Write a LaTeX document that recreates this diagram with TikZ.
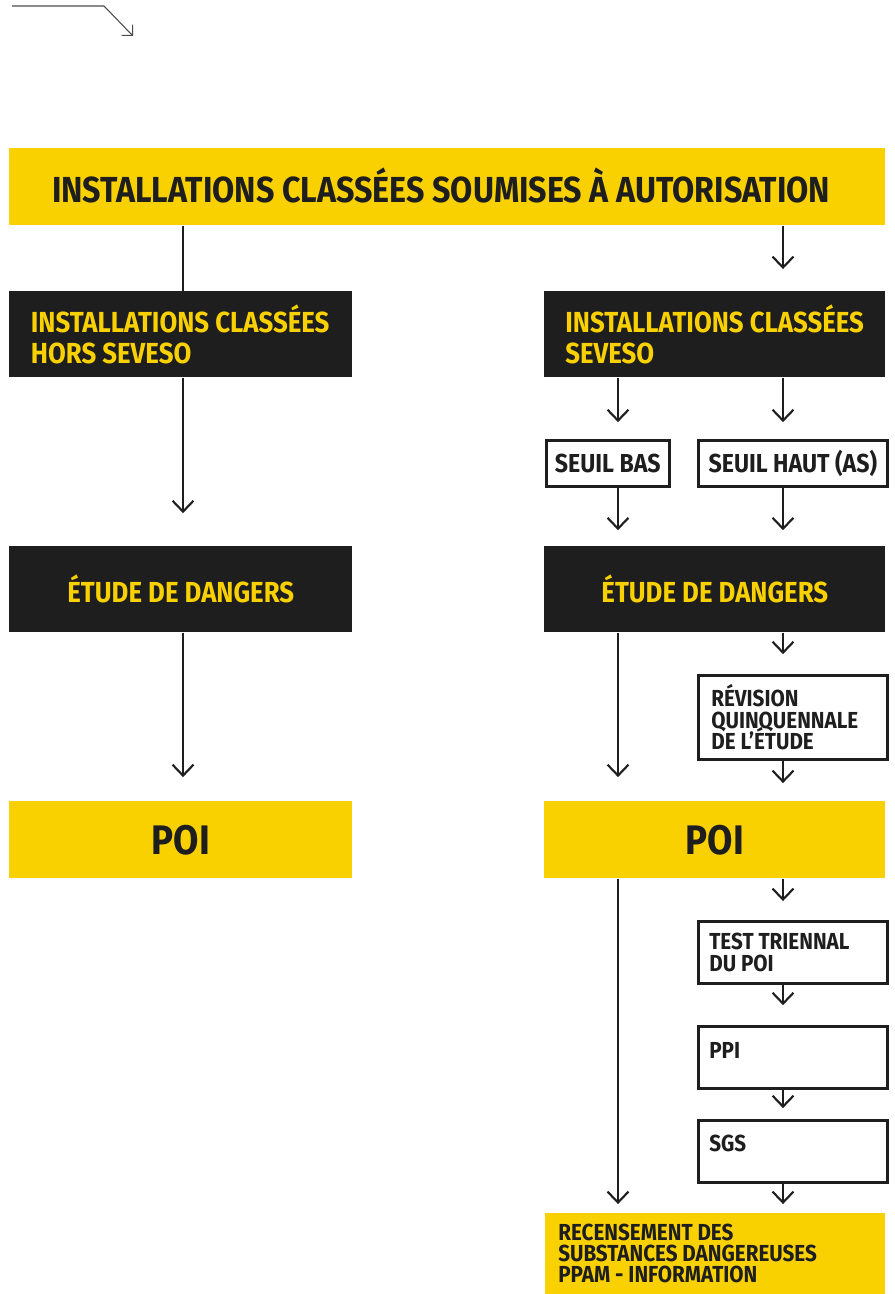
\documentclass[tikz,border=0pt]{standalone}
\usepackage{fontspec}
\setmainfont{Fira Sans}[FakeStretch=0.89]
\usetikzlibrary{arrows.meta}

\definecolor{jaune}{RGB}{250,209,0}
\definecolor{noir}{RGB}{30,30,30}

\begin{document}
\begin{tikzpicture}[x=0.02cm,y=-0.02cm,
    box/.style={anchor=north west,inner sep=0pt,font=\bfseries,execute at begin node={\lineskiplimit=-100pt}},
    jbox/.style={box,fill=jaune,text=noir},
    nbox/.style={box,fill=noir,text=jaune},
    wbox/.style={box,draw=noir,line width=1.5pt,fill=white,text=noir},
    lt/.style={align=flush left,inner xsep=#1},
    arr/.style={draw=noir,line width=1.2pt,-{Straight Barb[length=6.2pt,width=11.9pt]}},
    ln/.style={draw=noir,line width=1.2pt}]

    \useasboundingbox (0,0) rectangle (894,1294);

    \coordinate (d0) at (12,6);
    \coordinate (d1) at (104,6);
    \coordinate (d2) at (133,36);
    \draw [draw=noir!80,line width=0.6pt,-{Straight Barb[length=4.4pt,width=8.8pt]}] (d0) -- (d1) -- (d2);

    \coordinate (colL) at (183,0);
    \coordinate (colA) at (618,0);
    \coordinate (colB) at (783,0);

    \node [jbox,minimum width=17.52cm,minimum height=1.54cm,text depth=2pt,font=\bfseries\fontsize{20.6}{24}\selectfont] (top) at (9,148) {INSTALLATIONS CLASSÉES SOUMISES À AUTORISATION\hspace*{7pt}};

    \node [nbox,lt=0.43cm,text width=6.0cm,minimum height=1.72cm,font=\bfseries\fontsize{16.5}{18.1}\selectfont] (hors) at (9,291) {INSTALLATIONS CLASSÉES\\HORS SEVESO};
    \node [nbox,lt=0.42cm,text width=5.98cm,minimum height=1.72cm,font=\bfseries\fontsize{16.5}{18.1}\selectfont] (sev) at (544,291) {INSTALLATIONS CLASSÉES\\SEVESO};

    \node [wbox,minimum width=2.46cm,minimum height=0.92cm,font=\bfseries\fontsize{14.8}{16}\selectfont] (bas) at (545,439) {SEUIL BAS};
    \node [wbox,minimum width=3.78cm,minimum height=0.92cm,font=\bfseries\fontsize{14.8}{16}\selectfont] (haut) at (697,439) {SEUIL HAUT (AS)};

    \node [nbox,minimum width=6.86cm,minimum height=1.72cm,font=\bfseries\fontsize{16.5}{18.1}\selectfont] (eddL) at (9,546) {ÉTUDE DE DANGERS};
    \node [nbox,minimum width=6.82cm,minimum height=1.72cm,font=\bfseries\fontsize{16.5}{18.1}\selectfont] (eddR) at (544,546) {ÉTUDE DE DANGERS};

    \node [wbox,lt=0.26cm,text width=3.26cm,minimum height=1.68cm,font=\bfseries\fontsize{13.2}{12.2}\selectfont] (revis) at (697,674) {RÉVISION\\QUINQUENNALE\\DE L’ÉTUDE};

    \node [jbox,minimum width=6.86cm,minimum height=1.54cm,font=\bfseries\fontsize{23.5}{28}\selectfont] (poiL) at (9,801) {POI};
    \node [jbox,minimum width=6.82cm,minimum height=1.54cm,font=\bfseries\fontsize{23.5}{28}\selectfont] (poiR) at (544,801) {POI};

    \node [wbox,lt=0.22cm,text width=3.34cm,minimum height=1.24cm,font=\bfseries\fontsize{13.2}{12.2}\selectfont] (test) at (697,920) {TEST TRIENNAL\\DU POI};
    \node [wbox,lt=0.22cm,text width=3.34cm,minimum height=1.24cm,text depth=8pt,font=\bfseries\fontsize{13.2}{12.2}\selectfont] (ppi) at (697,1025) {PPI};
    \node [wbox,lt=0.22cm,text width=3.34cm,minimum height=1.24cm,text depth=9pt,font=\bfseries\fontsize{13.2}{12.2}\selectfont] (sgs) at (697,1119) {SGS};

    \node [jbox,lt=0.26cm,text width=6.28cm,minimum height=1.62cm,font=\bfseries\fontsize{13.2}{12}\selectfont] (recens) at (545,1213) {RECENSEMENT DES\\SUBSTANCES DANGEREUSES\\PPAM - INFORMATION};

    \draw [ln] (top.south -| colL) -- (hors.north -| colL);
    \draw [arr,shorten >=12.5pt] (top.south -| colB) -- (sev.north -| colB);
    \draw [arr,shorten >=18.7pt] (hors.south -| colL) -- (eddL.north -| colL);
    \draw [arr,shorten >=9.6pt] (sev.south -| colA) -- (bas.north -| colA);
    \draw [arr,shorten >=9.6pt] (sev.south -| colB) -- (haut.north -| colB);
    \draw [arr,shorten >=9pt] (bas.south -| colA) -- (eddR.north -| colA);
    \draw [arr,shorten >=9pt] (haut.south -| colB) -- (eddR.north -| colB);
    \draw [arr,shorten >=13.6pt] (eddL.south -| colL) -- (poiL.north -| colL);
    \draw [arr,shorten >=13.6pt] (eddR.south -| colA) -- (poiR.north -| colA);
    \draw [arr,shorten >=11.3pt] (eddR.south -| colB) -- (revis.north -| colB);
    \draw [arr,shorten >=10.2pt] (revis.south -| colB) -- (poiR.north -| colB);
    \draw [arr,shorten >=10.8pt] (poiR.south -| colB) -- (test.north -| colB);
    \draw [arr,shorten >=11.3pt] (test.south -| colB) -- (ppi.north -| colB);
    \draw [arr,shorten >=6.2pt] (ppi.south -| colB) -- (sgs.north -| colB);
    \draw [arr,shorten >=5.1pt] (sgs.south -| colB) -- (recens.north -| colB);
    \draw [arr,shorten >=5.1pt] (poiR.south -| colA) -- (recens.north -| colA);
\end{tikzpicture}
\end{document}
